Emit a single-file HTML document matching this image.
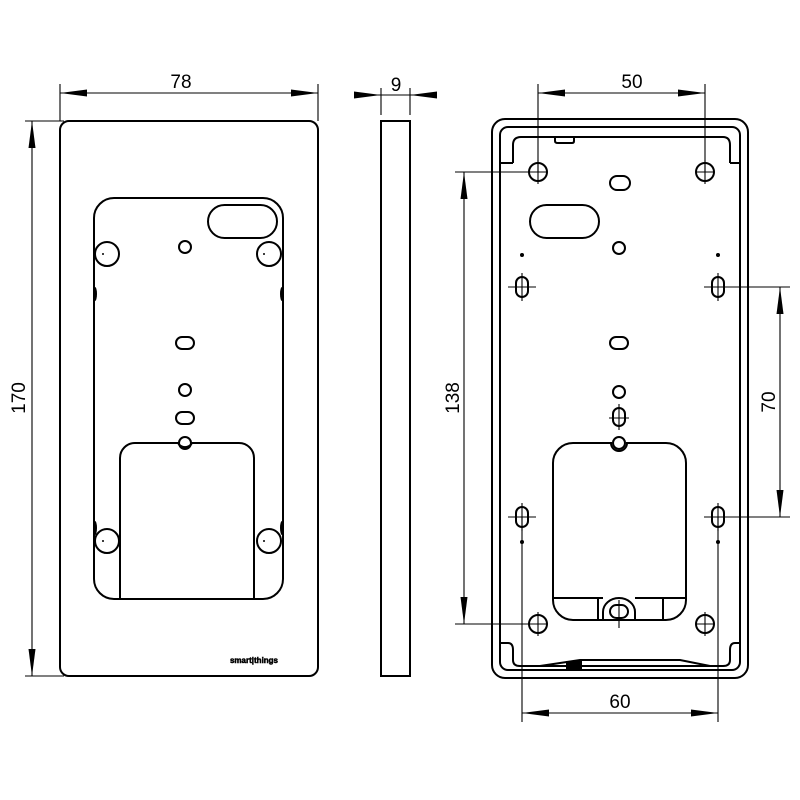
<!DOCTYPE html>
<html><head><meta charset="utf-8"><style>html,body{margin:0;padding:0;background:#fff}svg{display:block}</style></head>
<body>
<svg width="800" height="800" viewBox="0 0 800 800" xmlns="http://www.w3.org/2000/svg">
<defs>
<marker id="a" viewBox="0 0 10 10" refX="10" refY="5" markerWidth="27" markerHeight="7" markerUnits="userSpaceOnUse" orient="auto-start-reverse" preserveAspectRatio="none"><path d="M0,0 L10,5 L0,10 Z" fill="#000"/></marker>
</defs>
<g fill="none" stroke="#000" stroke-width="2">
<!-- left plate -->
<rect x="60" y="121" width="258" height="555" rx="9"/>
<path d="M94,218 A20,20 0 0 1 114,198 L263,198 A20,20 0 0 1 283,218 L283,579 A20,20 0 0 1 263,599 L114,599 A20,20 0 0 1 94,579 Z"/>
<path d="M120,599 L120,458 A15,15 0 0 1 135,443 L178,443 A8,8 0 0 0 192,443 L239,443 A15,15 0 0 1 254,458 L254,599"/>
<rect x="208" y="205" width="69" height="33" rx="16.5"/>
<circle cx="107" cy="254" r="12"/><circle cx="269" cy="254" r="12"/>
<circle cx="107" cy="541" r="12"/><circle cx="269" cy="541" r="12"/>
<circle cx="185" cy="247" r="6"/>
<rect x="176" y="337" width="18" height="12" rx="6"/>
<circle cx="185" cy="390" r="6"/>
<rect x="176" y="412" width="18" height="12" rx="6"/>
<circle cx="185" cy="443" r="6"/>
<!-- side view -->
<rect x="381" y="121" width="29" height="555"/>
<!-- right housing -->
<rect x="492" y="119" width="256" height="559" rx="13"/>
<rect x="500" y="127" width="240" height="543" rx="8"/>
<path d="M513,163 L513,145 Q513,137 521,137 L723,137 Q730,137 730,145 L730,163"/>
<path d="M500,163 L513,163 M730,163 L740,163"/>
<path d="M555,137 L555,141 Q555,143 558,143 L572,143 Q574,143 574,141 L574,137"/>
<path d="M500,643 L508,643 Q513,643 513,650 L513,660 Q513,666 520,666 L723,666 Q730,666 730,660 L730,650 Q730,643 735,643 L740,643"/>
<path d="M540,666 L580,660 L680,660 L710,666"/>
<rect x="567" y="662" width="14" height="6" fill="#000"/>
<circle cx="538" cy="172" r="9"/><circle cx="705" cy="172" r="9"/>
<circle cx="538" cy="624" r="9"/><circle cx="705" cy="624" r="9"/>
<rect x="610" y="176" width="20" height="14" rx="7"/>
<rect x="530" y="205" width="69" height="33" rx="16.5"/>
<circle cx="619" cy="248" r="6"/>
<rect x="516" y="277" width="12" height="20" rx="6"/><rect x="712" y="277" width="12" height="20" rx="6"/>
<rect x="516" y="507" width="12" height="20" rx="6"/><rect x="712" y="507" width="12" height="20" rx="6"/>
<rect x="610" y="337" width="18" height="12" rx="6"/>
<circle cx="619" cy="392" r="6"/>
<rect x="613" y="408" width="12" height="18" rx="6"/>
<circle cx="619" cy="443" r="6"/>
<path d="M553,600 L553,463 A20,20 0 0 1 573,443 L611,443 A8,8 0 0 0 627,443 L666,443 A20,20 0 0 1 686,463 L686,600 A20,20 0 0 1 666,620 L573,620 A20,20 0 0 1 553,600 Z"/>
<path d="M553,598 L603,598 M635,598 L686,598 M598,598 L598,620 M663,598 L663,620"/>
<path d="M603,620 L603,612 A16,14 0 0 1 635,612 L635,620"/>
<rect x="610" y="605" width="18" height="13" rx="6.5"/>
</g>
<g fill="#000">
<circle cx="522" cy="255" r="2"/><circle cx="718" cy="255" r="2"/>
<circle cx="522" cy="542" r="2"/><circle cx="718" cy="542" r="2"/>
<circle cx="103" cy="254" r="1"/><circle cx="264" cy="254" r="1"/>
<circle cx="103" cy="541" r="1"/><circle cx="264" cy="541" r="1"/>
<ellipse cx="95" cy="294" rx="2" ry="7"/><ellipse cx="282" cy="294" rx="2" ry="7"/>
<ellipse cx="95" cy="528" rx="2" ry="7"/><ellipse cx="282" cy="528" rx="2" ry="7"/>
</g>
<!-- thin lines: crosshairs, dimensions -->
<g fill="none" stroke="#000" stroke-width="1.1">
<path d="M538,160 L538,184 M528,172 L548,172 M705,160 L705,184 M695,172 L715,172"/>
<path d="M538,612 L538,636 M528,624 L548,624 M705,612 L705,636 M695,624 L715,624"/>
<path d="M522,273 L522,301 M508,287 L536,287 M718,273 L718,301 M704,287 L732,287"/>
<path d="M522,503 L522,531 M508,517 L536,517 M718,503 L718,531 M704,517 L732,517"/>
<path d="M619,404 L619,430 M609,418 L629,418 M619,600 L619,628"/>
<path d="M60,84 L60,121 M318,84 L318,121"/>
<line x1="60" y1="93" x2="318" y2="93" marker-start="url(#a)" marker-end="url(#a)"/>
<path d="M25,121 L64,121 M25,676 L64,676"/>
<line x1="32" y1="121" x2="32" y2="676" marker-start="url(#a)" marker-end="url(#a)"/>
<path d="M381,88 L381,115 M410,88 L410,115 M355,95 L437,95"/>
<line x1="354" y1="95" x2="381" y2="95" marker-end="url(#a)"/>
<line x1="437" y1="95" x2="410" y2="95" marker-end="url(#a)"/>
<path d="M538,84 L538,172 M705,84 L705,172"/>
<line x1="538" y1="93" x2="705" y2="93" marker-start="url(#a)" marker-end="url(#a)"/>
<path d="M455,172 L538,172 M455,624 L538,624"/>
<line x1="464" y1="172" x2="464" y2="624" marker-start="url(#a)" marker-end="url(#a)"/>
<path d="M718,287 L790,287 M718,517 L790,517"/>
<line x1="780" y1="287" x2="780" y2="517" marker-start="url(#a)" marker-end="url(#a)"/>
<path d="M522,517 L522,722 M718,517 L718,722"/>
<line x1="522" y1="713" x2="718" y2="713" marker-start="url(#a)" marker-end="url(#a)"/>
</g>
<g font-family="Liberation Sans, sans-serif" font-size="19" fill="#000" text-anchor="middle">
<text x="181" y="88">78</text>
<text x="396" y="91">9</text>
<text x="632" y="88">50</text>
<text x="620" y="708">60</text>
<text transform="translate(25,398) rotate(-90)">170</text>
<text transform="translate(459,398) rotate(-90)">138</text>
<text transform="translate(775,402) rotate(-90)">70</text>
<text x="254" y="663" font-size="8" font-weight="bold" stroke="#000" stroke-width="0.5">smart|things</text>
</g>
</svg>
</body></html>
